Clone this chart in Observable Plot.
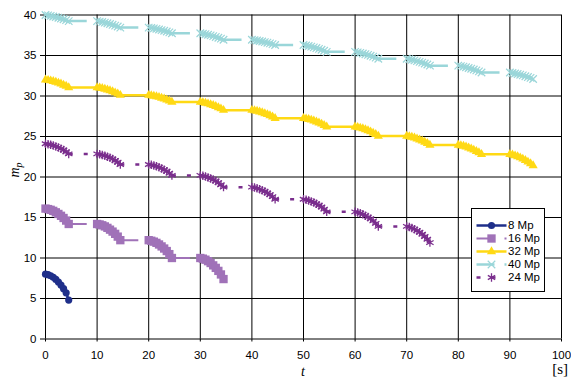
<!DOCTYPE html>
<html><head><meta charset="utf-8">
<script src="https://cdn.jsdelivr.net/npm/d3@7"></script>
<script src="https://cdn.jsdelivr.net/npm/@observablehq/plot@0.6"></script>
<style>
body{margin:0;background:#fff;}
#chart{position:relative;width:571px;height:379px;overflow:hidden;}
#legend{position:absolute;left:471px;top:208px;border:1px solid #000;background:#fff;width:72px;height:82px;}
#legend svg{display:block;}
</style></head><body>
<div id="chart"><div id="legend"></div></div>
<script>
// ---------- data ----------
const seriesNames = ["8 Mp", "16 Mp", "32 Mp", "40 Mp", "24 Mp"];
const xTicks = [0, 10, 20, 30, 40, 50, 60, 70, 80, 90, 100];
const yTicks = [0, 5, 10, 15, 20, 25, 30, 35, 40];
const clusterStarts = [0, 10, 20, 30, 40, 50, 60, 70, 80, 90];
const clusterOffsets = [0, 0.5, 1, 1.5, 2, 2.5, 3, 3.5, 4, 4.5];

const mp8 = [
  [8.00, 7.94, 7.81, 7.62, 7.36, 7.04, 6.66, 6.21, 5.70, 4.80]
];
const mp16 = [
  [16.10, 16.04, 15.95, 15.82, 15.64, 15.44, 15.21, 14.94, 14.62, 14.20],
  [14.20, 14.14, 14.04, 13.90, 13.72, 13.50, 13.26, 12.98, 12.64, 12.20],
  [12.20, 12.13, 12.02, 11.87, 11.67, 11.43, 11.17, 10.86, 10.48, 10.00],
  [10.00, 9.92, 9.79, 9.61, 9.38, 9.09, 8.78, 8.41, 7.97, 7.40]
];
const mp32 = [
  [32.00, 31.95, 31.89, 31.81, 31.72, 31.61, 31.50, 31.36, 31.22, 31.05],
  [31.05, 31.00, 30.94, 30.86, 30.77, 30.66, 30.55, 30.41, 30.27, 30.10],
  [30.10, 30.06, 30.00, 29.93, 29.85, 29.75, 29.65, 29.53, 29.40, 29.25],
  [29.25, 29.20, 29.13, 29.05, 28.95, 28.84, 28.72, 28.58, 28.43, 28.25],
  [28.25, 28.20, 28.13, 28.05, 27.95, 27.84, 27.72, 27.58, 27.43, 27.25],
  [27.25, 27.20, 27.12, 27.04, 26.94, 26.82, 26.69, 26.55, 26.39, 26.20],
  [26.20, 26.14, 26.06, 25.97, 25.86, 25.73, 25.59, 25.43, 25.26, 25.05],
  [25.05, 24.99, 24.92, 24.83, 24.72, 24.60, 24.47, 24.31, 24.15, 23.95],
  [23.95, 23.89, 23.81, 23.72, 23.61, 23.48, 23.34, 23.18, 23.01, 22.80],
  [22.80, 22.73, 22.63, 22.52, 22.38, 22.23, 22.06, 21.86, 21.65, 21.40]
];
const mp40 = [
  [40.00, 39.95, 39.89, 39.82, 39.75, 39.66, 39.57, 39.48, 39.37, 39.25],
  [39.25, 39.19, 39.13, 39.06, 38.98, 38.89, 38.79, 38.69, 38.58, 38.45],
  [38.45, 38.40, 38.35, 38.28, 38.21, 38.14, 38.05, 37.96, 37.86, 37.75],
  [37.75, 37.69, 37.63, 37.56, 37.48, 37.39, 37.29, 37.19, 37.08, 36.95],
  [36.95, 36.90, 36.85, 36.79, 36.73, 36.66, 36.58, 36.50, 36.40, 36.30],
  [36.30, 36.24, 36.17, 36.10, 36.01, 35.92, 35.82, 35.71, 35.59, 35.45],
  [35.45, 35.39, 35.32, 35.25, 35.16, 35.07, 34.97, 34.86, 34.74, 34.60],
  [34.60, 34.54, 34.47, 34.40, 34.31, 34.22, 34.12, 34.01, 33.89, 33.75],
  [33.75, 33.69, 33.62, 33.55, 33.46, 33.37, 33.27, 33.16, 33.04, 32.90],
  [32.90, 32.84, 32.78, 32.71, 32.63, 32.54, 32.44, 32.34, 32.23, 32.10]
];
const mp24 = [
  [24.10, 24.05, 23.98, 23.89, 23.78, 23.65, 23.50, 23.33, 23.11, 22.85],
  [22.85, 22.80, 22.72, 22.63, 22.51, 22.38, 22.23, 22.04, 21.82, 21.55],
  [21.55, 21.50, 21.42, 21.32, 21.20, 21.06, 20.90, 20.71, 20.48, 20.20],
  [20.20, 20.14, 20.06, 19.95, 19.82, 19.68, 19.50, 19.30, 19.05, 18.75],
  [18.75, 18.69, 18.60, 18.50, 18.36, 18.21, 18.03, 17.82, 17.57, 17.25],
  [17.25, 17.19, 17.10, 16.99, 16.85, 16.69, 16.51, 16.29, 16.03, 15.70],
  [15.70, 15.63, 15.52, 15.39, 15.23, 15.05, 14.84, 14.58, 14.28, 13.90],
  [13.90, 13.82, 13.70, 13.56, 13.38, 13.18, 12.94, 12.66, 12.32, 11.90]
];
const seriesValues = [mp8, mp16, mp32, mp40, mp24];

// ---------- styles ----------
const styles = {
  "8 Mp":  {color: "#1F2F8A", symbol: "circle",   r: 3.6, w: 2.5, dash: null,          fill: true,  sw: 0},
  "16 Mp": {color: "#A072B8", symbol: "square",   r: 4.7, w: 2,   dash: "18,10,2,10",  fill: true,  sw: 0},
  "32 Mp": {color: "#FFD914", symbol: "triangle", r: 3.4, w: 2.5, dash: null,          fill: true,  sw: 0},
  "40 Mp": {color: "#9AD6D9", symbol: "times",    r: 3.5, w: 2.5, dash: "18,10,2,10",  fill: false, sw: 1.2},
  "24 Mp": {color: "#7A2E8D", symbol: "asterisk", r: 4,   w: 2.5, dash: "4,11",        fill: false, sw: 1.3}
};

// ---------- build rows ----------
const rows = [];
seriesNames.forEach((name, si) => {
  seriesValues[si].forEach((cluster, k) => {
    cluster.forEach((v, i) => rows.push({series: name, t: clusterStarts[k] + clusterOffsets[i], v}));
  });
});

const seriesMarks = [];
for (const name of seriesNames) {
  const st = styles[name];
  const pts = rows.filter(d => d.series === name);
  const segs = d3.pairs(pts).map(([a, b]) => ({t1: a.t, v1: a.v, t2: b.t, v2: b.v}));
  seriesMarks.push(Plot.link(segs, {
    x1: "t1", y1: "v1", x2: "t2", y2: "v2",
    stroke: st.color, strokeWidth: st.w,
    strokeDasharray: st.dash || undefined,
    strokeLinecap: st.dash ? "butt" : "round"
  }));
}
for (const name of seriesNames) {
  const st = styles[name];
  const pts = rows.filter(d => d.series === name);
  seriesMarks.push(Plot.dot(pts, st.fill
    ? {x: "t", y: "v", symbol: st.symbol, r: st.r, fill: st.color, stroke: "none"}
    : {x: "t", y: "v", symbol: st.symbol, r: st.r, fill: "none", stroke: st.color, strokeWidth: st.sw}));
}

const chart = Plot.plot({
  width: 571, height: 379,
  marginLeft: 45, marginRight: 10, marginTop: 14.5, marginBottom: 40.5,
  x: {domain: [0, 100]},
  y: {domain: [0, 40]},
  style: {fontFamily: "'Liberation Sans', Arial, sans-serif", fontSize: "11px", color: "#000", background: "#fff", overflow: "visible"},
  marks: [
    Plot.ruleY(yTicks, {stroke: "#000", strokeWidth: 1}),
    Plot.ruleX(xTicks, {stroke: "#000", strokeWidth: 1}),
    Plot.axisX(xTicks, {tickSize: 3, tickPadding: 9, label: null, fontSize: 11.5}),
    Plot.axisY(yTicks, {tickSize: 5, tickPadding: 4, label: null, fontSize: 11.5}),
    ...seriesMarks
  ]
});
document.getElementById("chart").insertBefore(chart, document.getElementById("legend"));

// axis titles
const svg = d3.select(chart);
svg.append("text")
  .attr("x", 303).attr("y", 375.5)
  .attr("text-anchor", "middle")
  .attr("font-family", "'Liberation Serif', 'Times New Roman', serif")
  .attr("font-style", "italic").attr("font-size", 14).attr("fill", "#000")
  .text("t");
svg.append("text")
  .attr("x", 568).attr("y", 374)
  .attr("text-anchor", "end")
  .attr("font-family", "'Liberation Serif', 'Times New Roman', serif")
  .attr("font-size", 15).attr("fill", "#000")
  .text("[s]");
const yl = svg.append("text")
  .attr("transform", "translate(19,170) rotate(-90)")
  .attr("font-family", "'Liberation Serif', 'Times New Roman', serif")
  .attr("font-style", "italic").attr("font-size", 14).attr("fill", "#000");
yl.append("tspan").text("m");
yl.append("tspan").attr("font-size", 10).attr("dy", 3).text("p");

// ---------- legend ----------
const legendRows = seriesNames.map(name => ({name}));
const legendMarks = [];
for (const name of seriesNames) {
  const st = styles[name];
  const r = [{name}];
  legendMarks.push(Plot.link(r, {x1: () => 4, x2: () => 34, y1: "name", y2: "name",
    stroke: st.color, strokeWidth: st.w, strokeDasharray: st.dash || undefined}));
  legendMarks.push(Plot.dot(r, st.fill
    ? {x: () => 19, y: "name", symbol: st.symbol, r: st.r, fill: st.color, stroke: "none"}
    : {x: () => 19, y: "name", symbol: st.symbol, r: st.r, fill: "none", stroke: st.color, strokeWidth: st.sw}));
}
const legend = Plot.plot({
  width: 72, height: 82, margin: 0,
  x: {domain: [0, 72], range: [0, 72], axis: null},
  y: {type: "point", domain: seriesNames, range: [8.7, 74.7], axis: null},
  style: {fontFamily: "'Liberation Sans', Arial, sans-serif", fontSize: "11px", color: "#000", background: "#fff"},
  marks: [
    ...legendMarks,
    Plot.text(legendRows, {x: () => 35.5, y: "name", text: "name", textAnchor: "start", fill: "#000", fontSize: 11.5})
  ]
});
document.getElementById("legend").appendChild(legend);
</script>
</body></html>
